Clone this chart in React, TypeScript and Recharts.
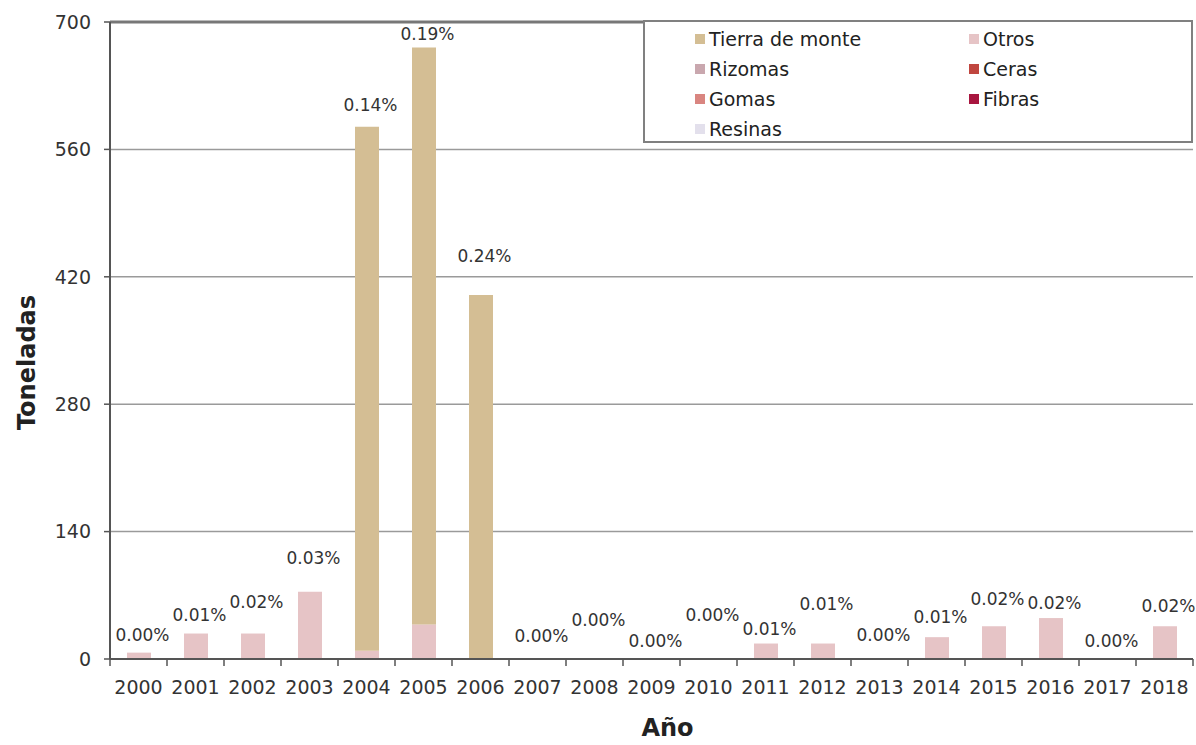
import React from 'react';
import { ComposedChart, Bar, Line, XAxis, YAxis, CartesianGrid, Legend, LabelList, ReferenceLine } from 'recharts';

const years = ['2000', '2001', '2002', '2003', '2004', '2005', '2006', '2007', '2008', '2009', '2010', '2011', '2012', '2013', '2014', '2015', '2016', '2017', '2018'];
const tierraDeMonte = [0, 0, 0, 0, 576, 634, 400, 0, 0, 0, 0, 0, 0, 0, 0, 0, 0, 0, 0];
const otros = [7, 28, 28, 74, 9, 38, 0, 0, 1, 0, 0, 17, 17, 0, 24, 36, 45, 0, 36];
const rizomas = [0, 0, 0, 0, 0, 0, 0, 0, 0, 0, 0, 0, 0, 0, 0, 0, 0, 0, 0];
const ceras = [0, 0, 0, 0, 0, 0, 0, 0, 0, 0, 0, 0, 0, 0, 0, 0, 0, 0, 0];
const gomas = [0, 0, 0, 0, 0, 0, 0, 0, 0, 0, 0, 0, 0, 0, 0, 0, 0, 0, 0];
const fibras = [0, 0, 0, 0, 0, 0, 0, 0, 0, 0, 0, 0, 0, 0, 0, 0, 0, 0, 0];
const resinas = [0, 0, 0, 0, 0, 0, 0, 0, 0, 0, 0, 0, 0, 0, 0, 0, 0, 0, 0];
const percentLabels = ['0.00%', '0.01%', '0.02%', '0.03%', '0.14%', '0.19%', '0.24%', '0.00%', '0.00%', '0.00%', '0.00%', '0.01%', '0.01%', '0.00%', '0.01%', '0.02%', '0.02%', '0.00%', '0.02%'];
const yTicks = [0, 140, 280, 420, 560, 700];

// label lift above bar top, in pixels (layout only)
const labelLift = [18, 19, 32, 34, 22, 13, 39, 23, 38, 18, 44, 15, 40, 24, 20, 27, 15, 18, 20];

const series = [
  { key: 'otros', name: 'Otros', color: '#E6C4C6' },
  { key: 'rizomas', name: 'Rizomas', color: '#C9A7AE' },
  { key: 'ceras', name: 'Ceras', color: '#C0463F' },
  { key: 'gomas', name: 'Gomas', color: '#D98580' },
  { key: 'fibras', name: 'Fibras', color: '#A8163F' },
  { key: 'resinas', name: 'Resinas', color: '#E3E0EC' },
  { key: 'tierra', name: 'Tierra de monte', color: '#D4BE94' },
];

const legendOrder = ['tierra', 'otros', 'rizomas', 'ceras', 'gomas', 'fibras', 'resinas'];

const data = years.map((year, i) => ({
  year,
  tierra: tierraDeMonte[i],
  otros: otros[i],
  rizomas: rizomas[i],
  ceras: ceras[i],
  gomas: gomas[i],
  fibras: fibras[i],
  resinas: resinas[i],
  total: tierraDeMonte[i] + otros[i] + rizomas[i] + ceras[i] + gomas[i] + fibras[i] + resinas[i],
  pct: percentLabels[i],
}));

const FONT = 'DejaVu Sans';
const TEXT = '#333';
const AXIS = '#555';

const XTick = (props: any) => {
  const { x, y, payload, index } = props;
  const off = payload && typeof payload.offset === 'number' && payload.offset > 0 ? payload.offset : 28.5;
  const isLast = index === years.length - 1;
  return (
    <g>
      <line x1={x - off} y1={y} x2={x - off} y2={y + 7} stroke={AXIS} strokeWidth={1.5} />
      {isLast && <line x1={x + off} y1={y} x2={x + off} y2={y + 7} stroke={AXIS} strokeWidth={1.5} />}
      <text x={x} y={y + 28} textAnchor="middle" dominantBaseline="central" fontSize={19} fill={TEXT} fontFamily={FONT}>
        {payload.value}
      </text>
    </g>
  );
};

const PctLabel = (props: any) => {
  const { x, y, width, index, value } = props;
  const i = typeof index === 'number' ? index : percentLabels.indexOf(value);
  const lift = labelLift[i] ?? 20;
  const cx = x + (typeof width === 'number' ? width / 2 : 0) + 4;
  return (
    <text x={cx} y={y - lift} textAnchor="middle" dominantBaseline="central" fontSize={17} fill={TEXT} fontFamily={FONT}>
      {value}
    </text>
  );
};

const LegendBox = () => {
  return (
    <div
      style={{
        position: 'relative',
        width: 550,
        height: 123,
        boxSizing: 'border-box',
        border: '2px solid #808080',
        background: '#fff',
        fontFamily: FONT,
      }}
    >
      {legendOrder.map((k, i) => {
        const s = series.find((d) => d.key === k)!;
        const col = i % 2;
        const row = Math.floor(i / 2);
        return (
          <div
            key={k}
            style={{
              position: 'absolute',
              left: 50 + col * 274,
              top: 4 + row * 30,
              height: 26,
              display: 'flex',
              alignItems: 'center',
              whiteSpace: 'nowrap',
            }}
          >
            <span style={{ display: 'inline-block', width: 10, height: 10, background: s.color, marginRight: 4 }} />
            <span style={{ fontSize: 19, color: '#222' }}>{s.name}</span>
          </div>
        );
      })}
    </div>
  );
};

export default function App() {
  return (
    <div style={{ position: 'absolute', left: 0, top: 0, width: 1196, height: 745, background: '#fff' }}>
      <ComposedChart
        width={1196}
        height={745}
        data={data}
        margin={{ top: 22, right: 3, left: 0, bottom: 0 }}
        barSize={24}
        style={{ fontFamily: FONT }}
      >
        <CartesianGrid vertical={false} stroke="#9a9a9a" strokeWidth={1.5} />
        <XAxis
          dataKey="year"
          height={86}
          tickSize={0}
          tickMargin={0}
          tickLine={false}
          axisLine={{ stroke: AXIS, strokeWidth: 2 }}
          tick={<XTick />}
          interval={0}
          label={{
            content: (p: any) => {
              const vb = p.viewBox || { x: 110, y: 659, width: 1083, height: 86 };
              return (
                <text x={vb.x + vb.width / 2 + 16} y={728} textAnchor="middle" dominantBaseline="central" fontSize={24} fontWeight="bold" fill="#222" fontFamily={FONT}>
                  Año
                </text>
              );
            },
          }}
        />
        <YAxis
          width={110}
          domain={[0, 700]}
          ticks={yTicks}
          interval={0}
          tickSize={6}
          tickMargin={13}
          tickLine={{ stroke: AXIS, strokeWidth: 1.5 }}
          axisLine={{ stroke: AXIS, strokeWidth: 2 }}
          tick={{ fontSize: 19, fill: TEXT, fontFamily: FONT }}
          label={{
            content: (p: any) => {
              const vb = p.viewBox || { x: 0, y: 22, width: 110, height: 637 };
              const cy = vb.y + vb.height / 2 + 22;
              return (
                <text x={27} y={cy} transform={`rotate(-90 27 ${cy})`} textAnchor="middle" dominantBaseline="central" fontSize={24} fontWeight="bold" fill="#222" fontFamily={FONT}>
                  Toneladas
                </text>
              );
            },
          }}
        />
        <YAxis yAxisId="right" orientation="right" width={0} tick={false} tickLine={false} axisLine={{ stroke: AXIS, strokeWidth: 2 }} />
        <ReferenceLine y={700} stroke="#777" strokeWidth={3} />
        <Legend
          layout="vertical"
          align="center"
          verticalAlign="middle"
          content={<LegendBox />}
          wrapperStyle={{ left: 643, top: 20, width: 550, height: 123 }}
        />
        {series.map((s) => (
          <Bar key={s.key} dataKey={s.key} name={s.name} stackId="a" fill={s.color} isAnimationActive={false} />
        ))}
        <Line
          dataKey="total"
          stroke="none"
          dot={false}
          activeDot={false}
          legendType="none"
          isAnimationActive={false}
        >
          <LabelList dataKey="pct" content={<PctLabel />} />
        </Line>
      </ComposedChart>
    </div>
  );
}
